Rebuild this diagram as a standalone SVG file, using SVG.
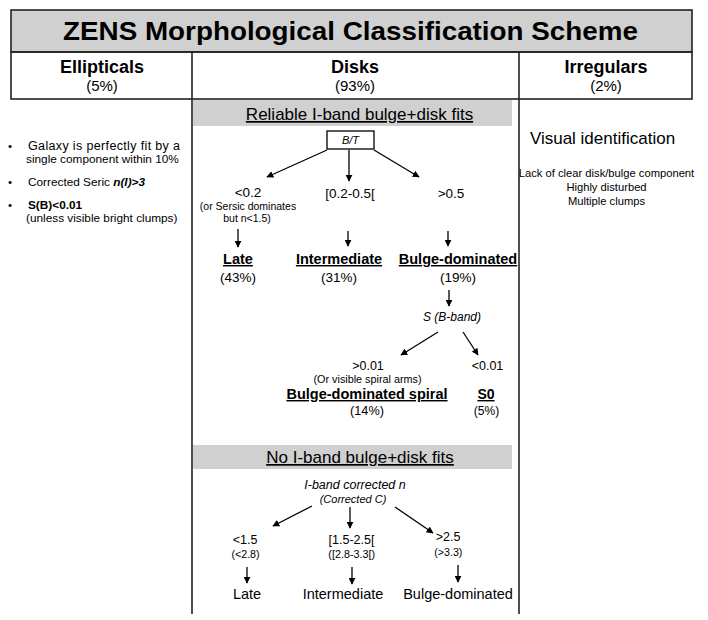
<svg xmlns="http://www.w3.org/2000/svg" width="708" height="620" viewBox="0 0 708 620">
<defs>
<marker id="ah" viewBox="0 0 10 10" refX="9" refY="5" markerWidth="7" markerHeight="7" markerUnits="userSpaceOnUse" orient="auto">
<path d="M0,0 L10,5 L0,10 z" fill="#000"/>
</marker>
</defs>
<style>
text{font-family:"Liberation Sans",Arial,sans-serif;fill:#000;text-anchor:middle}
.b{font-weight:bold}
.i{font-style:italic}
.u{text-decoration:underline}
.frame{fill:none;stroke:#222;stroke-width:1.6}
.band{fill:#d0d0d0;stroke:none}
.arr{stroke:#000;stroke-width:1.3;fill:none;marker-end:url(#ah)}
.l{text-anchor:start}
</style>
<rect width="708" height="620" fill="#fff"/>
<g id="frame">
<rect x="11" y="10" width="681" height="42" fill="#d0d0d0" stroke="#222" stroke-width="1.6"/>
<rect class="frame" x="11" y="52" width="681" height="47"/>
<line class="frame" x1="192" y1="52" x2="192" y2="614"/>
<line class="frame" x1="519" y1="52" x2="519" y2="614"/>
<text x="350.5" y="40" class="b" font-size="25" textLength="575" lengthAdjust="spacingAndGlyphs">ZENS Morphological Classification Scheme</text>
</g>
<g id="hdr-ellipticals">
<text x="102" y="73" class="b" font-size="18">Ellipticals</text>
<text x="102" y="91" font-size="15">(5%)</text>
</g>
<g id="hdr-disks">
<text x="355" y="73" class="b" font-size="18">Disks</text>
<text x="355" y="91" font-size="15">(93%)</text>
</g>
<g id="hdr-irregulars">
<text x="606" y="73" class="b" font-size="18">Irregulars</text>
<text x="606" y="91" font-size="15">(2%)</text>
</g>
<g id="ellipticals-criteria" font-size="11.8">
<text x="8" y="150" class="l">•</text>
<text x="28" y="150" class="l" font-size="12.5" textLength="152" lengthAdjust="spacing">Galaxy is perfectly fit by a</text>
<text x="26" y="162.5" class="l">single component within 10%</text>
<text x="8" y="186" class="l">•</text>
<text x="28" y="186" class="l">Corrected Seric <tspan class="b i">n(I)&gt;3</tspan></text>
<text x="8" y="208.5" class="l">•</text>
<text x="28" y="208.5" class="l b">S(B)&lt;0.01</text>
<text x="26" y="222" class="l">(unless visible bright clumps)</text>
</g>
<g id="irregulars-criteria">
<text x="602.5" y="144" font-size="17">Visual identification</text>
<text x="606.5" y="177" font-size="11.2">Lack of clear disk/bulge component</text>
<text x="606.5" y="190.5" font-size="11.2">Highly disturbed</text>
<text x="606.5" y="204.5" font-size="11.2">Multiple clumps</text>
</g>
<g id="band-reliable">
<rect class="band" x="193" y="100" width="319" height="26"/>
<text x="359.5" y="120" class="u" font-size="17">Reliable I-band bulge+disk fits</text>
</g>
<g id="node-bt">
<rect x="327" y="131" width="47" height="18" fill="#fff" stroke="#000" stroke-width="1.3"/>
<text x="350.5" y="144" class="i" font-size="11">B/T</text>
</g>
<g id="connectors">
<line class="arr" x1="327" y1="150" x2="267" y2="177"/>
<line class="arr" x1="349" y1="150" x2="349" y2="181"/>
<line class="arr" x1="374" y1="150" x2="419" y2="177"/>
<line class="arr" x1="238" y1="229" x2="238" y2="247"/>
<line class="arr" x1="348" y1="231" x2="348" y2="246"/>
<line class="arr" x1="448" y1="231" x2="448" y2="246"/>
<line class="arr" x1="449" y1="290" x2="449" y2="306"/>
<line class="arr" x1="438" y1="332" x2="401" y2="355"/>
<line class="arr" x1="463" y1="332" x2="478" y2="355"/>
<line class="arr" x1="312" y1="506" x2="273" y2="526"/>
<line class="arr" x1="350" y1="507" x2="350" y2="528"/>
<line class="arr" x1="395" y1="507" x2="433" y2="533"/>
<line class="arr" x1="247" y1="567" x2="247" y2="583"/>
<line class="arr" x1="352" y1="567" x2="352" y2="584"/>
<line class="arr" x1="458" y1="565" x2="458" y2="582"/>
</g>
<g id="node-lt02">
<text x="248" y="197" font-size="13.5">&lt;0.2</text>
<text x="248" y="210" font-size="10.5">(or Sersic dominates</text>
<text x="247" y="222" font-size="10.5">but n&lt;1.5)</text>
</g>
<g id="node-02-05">
<text x="350" y="198" font-size="13.5">[0.2-0.5[</text>
</g>
<g id="node-gt05">
<text x="451" y="198" font-size="13.5">&gt;0.5</text>
</g>
<g id="node-late">
<text x="238" y="264" class="b u" font-size="14.5">Late</text>
<text x="238" y="282" font-size="13.5">(43%)</text>
</g>
<g id="node-intermediate">
<text x="339" y="264" class="b u" font-size="14.5">Intermediate</text>
<text x="339" y="282" font-size="13.5">(31%)</text>
</g>
<g id="node-bulge">
<text x="458" y="264" class="b u" font-size="14.5">Bulge-dominated</text>
<text x="458" y="282" font-size="13.5">(19%)</text>
</g>
<g id="node-sb">
<text x="452" y="321" class="i" font-size="12">S (B-band)</text>
</g>
<g id="node-bds">
<text x="368" y="370" font-size="12.5">&gt;0.01</text>
<text x="367.5" y="383" font-size="10.8">(Or visible spiral arms)</text>
<text x="367" y="399" class="b u" font-size="14.5">Bulge-dominated spiral</text>
<text x="367" y="415" font-size="12.7">(14%)</text>
</g>
<g id="node-s0">
<text x="487.5" y="370" font-size="12.5">&lt;0.01</text>
<text x="486" y="399" class="b u" font-size="14">S0</text>
<text x="486.5" y="415" font-size="12">(5%)</text>
</g>
<g id="band-nofit">
<rect class="band" x="193" y="445" width="319" height="24"/>
<text x="360" y="463" class="u" font-size="17">No I-band bulge+disk fits</text>
</g>
<g id="node-n">
<text x="355" y="489" class="i" font-size="12.5">I-band corrected n</text>
<text x="353" y="503" class="i" font-size="11">(Corrected C)</text>
</g>
<g id="node-lt15">
<text x="245" y="543.5" font-size="12.5">&lt;1.5</text>
<text x="245.5" y="557.5" font-size="10.7">(&lt;2.8)</text>
</g>
<g id="node-15-25">
<text x="351.5" y="543.5" font-size="12.5">[1.5-2.5[</text>
<text x="351.7" y="557.5" font-size="10.8">([2.8-3.3[)</text>
</g>
<g id="node-gt25">
<text x="448" y="541" font-size="12.5">&gt;2.5</text>
<text x="448.3" y="555.5" font-size="10.7">(&gt;3.3)</text>
</g>
<g id="leaf-late"><text x="247" y="599" font-size="14.5">Late</text></g>
<g id="leaf-intermediate"><text x="343" y="599" font-size="14.5">Intermediate</text></g>
<g id="leaf-bulge"><text x="458" y="599" font-size="14.5">Bulge-dominated</text></g>
</svg>
